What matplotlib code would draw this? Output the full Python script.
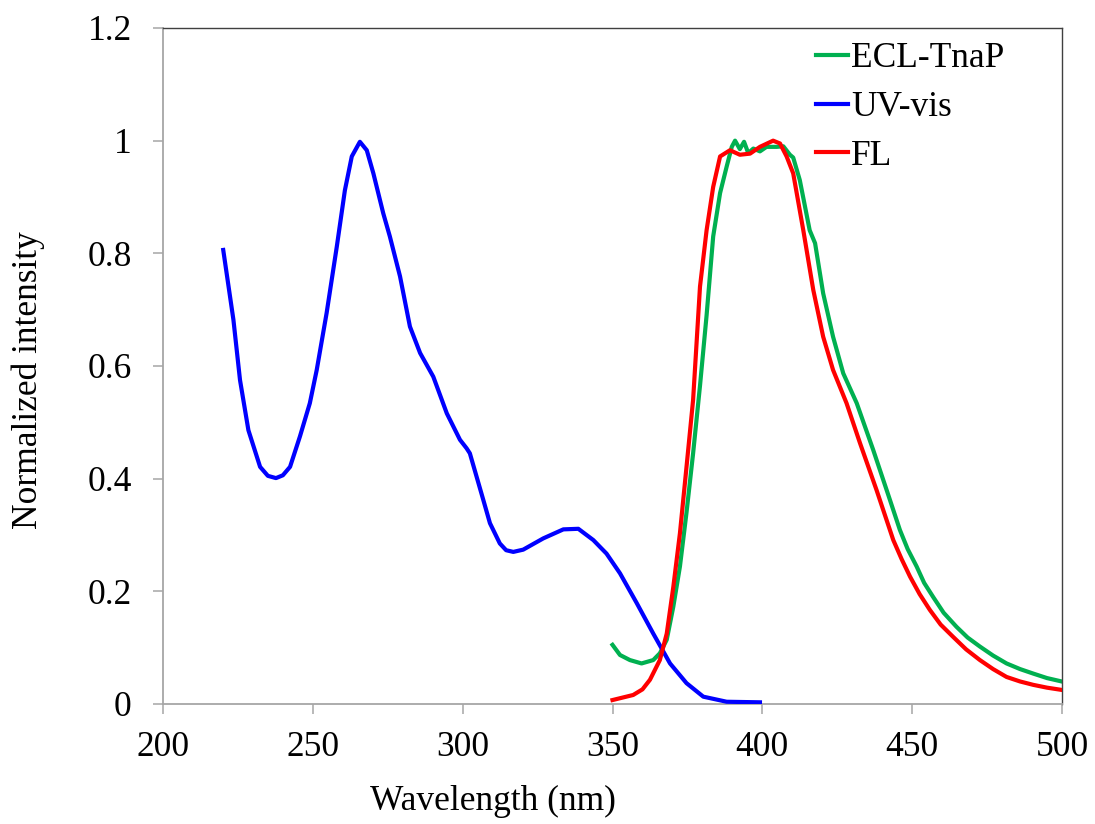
import matplotlib
matplotlib.use("Agg")
import matplotlib.pyplot as plt
from matplotlib.ticker import FuncFormatter, MultipleLocator

# UV-vis absorption
uv_wl = [220.1, 223.5, 225.7, 228.5, 232.4, 235.0, 237.7, 240.0, 242.4, 245.7,
         249.0, 251.3, 254.6, 258.0, 260.7, 263.0, 265.7, 268.0, 270.2, 273.5,
         275.7, 279.1, 282.4, 285.8, 290.2, 294.7, 299.1, 301.3, 302.4, 306.9,
         309.1, 312.4, 314.5, 316.9, 320.2, 326.9, 333.6, 338.6, 343.6, 348.0,
         352.5, 358.1, 363.6, 369.2, 374.7, 380.3, 388.1, 399.2]
uv_int = [0.806, 0.682, 0.575, 0.486, 0.421, 0.405, 0.401, 0.406, 0.421, 0.475,
          0.534, 0.593, 0.694, 0.812, 0.912, 0.972, 0.998, 0.983, 0.942, 0.871,
          0.830, 0.759, 0.670, 0.623, 0.581, 0.516, 0.469, 0.454, 0.445, 0.362,
          0.321, 0.285, 0.273, 0.270, 0.274, 0.294, 0.310, 0.311, 0.291, 0.267,
          0.232, 0.179, 0.125, 0.072, 0.037, 0.013, 0.004, 0.003]

# ECL-TnaP emission
ecl_wl = [350.0, 352.5, 355.8, 359.7, 363.6, 365.8, 368.1, 370.3, 372.5, 374.7,
          376.9, 379.2, 381.4, 383.6, 385.9, 388.1, 389.8, 390.9, 392.5, 393.9,
          395.3, 397.0, 399.2, 401.4, 404.8, 407.0, 409.2, 410.3, 412.5, 415.8,
          417.6, 420.3, 423.6, 427.0, 431.5, 437.0, 442.6, 445.9, 448.5, 451.5,
          454.0, 457.0, 460.5, 464.8, 468.5, 472.6, 477.0, 481.5, 486.0, 490.4,
          495.0, 499.9]
ecl_int = [0.105, 0.087, 0.078, 0.072, 0.078, 0.090, 0.114, 0.173, 0.244, 0.340,
           0.445, 0.565, 0.690, 0.830, 0.907, 0.954, 0.989, 1.000, 0.985, 0.998,
           0.978, 0.986, 0.981, 0.989, 0.989, 0.990, 0.975, 0.970, 0.930, 0.841,
           0.818, 0.729, 0.652, 0.587, 0.534, 0.451, 0.362, 0.309, 0.275, 0.244,
           0.215, 0.190, 0.162, 0.137, 0.118, 0.102, 0.086, 0.072, 0.062, 0.054,
           0.046, 0.040]

# FL emission
fl_wl = [350.0, 356.9, 360.0, 362.5, 365.8, 368.1, 370.3, 372.5, 374.7, 376.9,
         379.2, 381.4, 383.6, 385.9, 389.2, 392.5, 395.9, 399.2, 403.6, 405.9,
         408.1, 410.3, 413.7, 417.0, 420.3, 423.6, 428.1, 432.6, 438.1, 443.7,
         446.5, 449.3, 452.5, 455.9, 459.5, 463.7, 468.0, 472.6, 477.0, 481.5,
         486.0, 490.4, 495.0, 499.9]
fl_int = [0.007, 0.016, 0.026, 0.043, 0.078, 0.125, 0.208, 0.303, 0.421, 0.540,
          0.741, 0.841, 0.918, 0.972, 0.983, 0.975, 0.977, 0.989, 1.000, 0.995,
          0.972, 0.942, 0.840, 0.735, 0.652, 0.593, 0.534, 0.463, 0.380, 0.291,
          0.257, 0.226, 0.195, 0.167, 0.141, 0.119, 0.097, 0.078, 0.062, 0.048,
          0.040, 0.034, 0.029, 0.025]

GREEN = "#00b050"
BLUE = "#0000ff"
RED = "#ff0000"
AXIS_GREY = "#a6a6a6"

plt.rcParams["font.family"] = ["Liberation Serif", "DejaVu Serif"]
FS = 25.5

fig = plt.figure(figsize=(10.95, 8.24), dpi=100)
ax = fig.add_axes([163 / 1095, 120 / 824, 899 / 1095, 676 / 824])

lw = 3.0
ax.plot(ecl_wl, ecl_int, color=GREEN, lw=lw, label="ECL-TnaP", zorder=2)
ax.plot(uv_wl, uv_int, color=BLUE, lw=lw, label="UV-vis", zorder=3)
ax.plot(fl_wl, fl_int, color=RED, lw=lw, label="FL", zorder=4)

ax.set_xlim(200, 500)
ax.set_ylim(0, 1.2)
ax.xaxis.set_major_locator(MultipleLocator(50))
ax.yaxis.set_major_locator(MultipleLocator(0.2))
ax.yaxis.set_major_formatter(FuncFormatter(lambda v, p: "%g" % round(v, 2)))

for side in ("left", "bottom"):
    ax.spines[side].set_color(AXIS_GREY)
    ax.spines[side].set_linewidth(1.3)
for side in ("top", "right"):
    ax.spines[side].set_color("#404040")
    ax.spines[side].set_linewidth(1.0)

ax.tick_params(axis="both", direction="out", length=7.5, width=1.1,
               color=AXIS_GREY, labelsize=FS)
ax.tick_params(axis="y", pad=15)
ax.tick_params(axis="x", pad=12)

ax.set_xlabel("Wavelength (nm)", fontsize=FS)
ax.set_ylabel("Normalized intensity", fontsize=FS)
ax.xaxis.set_label_coords(0.367, -0.12)
ax.yaxis.set_label_coords(-0.131, 0.479)

fig.legend(loc="upper left", bbox_to_anchor=(816 / 1095, 1 - 42 / 824),
           frameon=False, fontsize=FS, handlelength=0.9, handletextpad=0.1,
           labelspacing=0.45, borderpad=0, borderaxespad=0)

fig.savefig("out.png", dpi=100, facecolor="white")
